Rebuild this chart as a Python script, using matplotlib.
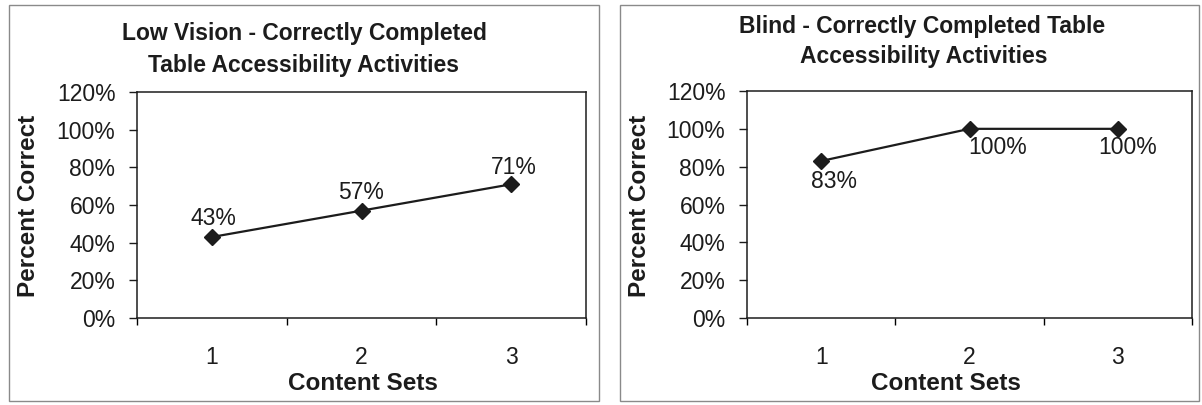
import matplotlib.pyplot as plt
import matplotlib.patches as mpatches
from matplotlib.ticker import PercentFormatter, FixedLocator, NullFormatter

plt.rcParams['font.family'] = ['Liberation Sans', 'DejaVu Sans']

# Content sets and percent correct for each group
content_sets = [1, 2, 3]
low_vision_pct = [43, 57, 71]
blind_pct = [83, 100, 100]

low_vision_title = ["Low Vision - Correctly Completed", "Table Accessibility Activities"]
blind_title = ["Blind - Correctly Completed Table", "Accessibility Activities"]

W, H = 1202, 405
INK = '#1c1c1c'


def fx(px):
    return px / W


def fy(py):
    return 1 - py / H


def draw_panel(fig, rect, values, label_offsets, label_va):
    ax = fig.add_axes(rect)
    ax.plot(content_sets, values, color=INK, lw=1.6, marker='D', markersize=8,
            markerfacecolor=INK, markeredgecolor=INK, zorder=3)
    for x, v, (dx, dy) in zip(content_sets, values, label_offsets):
        ax.annotate(f"{v}%", xy=(x, v), xytext=(dx, dy), textcoords='offset pixels',
                    ha='center', va=label_va, fontsize=16.5, color=INK)

    ax.set_xlim(0.5, 3.5)
    ax.set_ylim(0, 120)
    ax.yaxis.set_major_locator(FixedLocator(range(0, 121, 20)))
    ax.yaxis.set_major_formatter(PercentFormatter(decimals=0))

    # category labels in the middle, tick marks on the boundaries
    ax.xaxis.set_major_locator(FixedLocator([0.5, 1.5, 2.5, 3.5]))
    ax.xaxis.set_major_formatter(NullFormatter())
    ax.xaxis.set_minor_locator(FixedLocator(content_sets))
    ax.set_xticklabels([str(c) for c in content_sets], minor=True)

    ax.tick_params(axis='y', direction='out', length=6, width=1, pad=9.5,
                   labelsize=16.5, colors=INK)
    ax.tick_params(axis='x', which='major', direction='out', length=5, width=1)
    ax.tick_params(axis='x', which='minor', length=0, pad=20, labelsize=16.5,
                   labelcolor=INK)
    for s in ax.spines.values():
        s.set_color(INK)
        s.set_linewidth(1.1)
    return ax


fig = plt.figure(figsize=(W / 100, H / 100), dpi=100)

# panel frames
for x0, x1 in [(9, 599), (620, 1199)]:
    fig.add_artist(mpatches.Rectangle((fx(x0), fy(401)), fx(x1 - x0), (401 - 5) / H,
                                      transform=fig.transFigure, fill=False,
                                      ec='#8a8a8a', lw=1))

ax1 = draw_panel(fig, [fx(137), fy(318), fx(586 - 137), (318 - 92) / H],
                 low_vision_pct, [(2, 12), (0, 12), (3, 10)], 'baseline')
ax2 = draw_panel(fig, [fx(747), fy(318), fx(1192 - 747), (318 - 91) / H],
                 blind_pct, [(13, -27), (28, -25), (10, -25)], 'baseline')

title_kw = dict(ha='center', va='baseline', fontsize=16.5, fontweight='bold', color=INK)
fig.text(fx(304), fy(40), low_vision_title[0], **title_kw)
fig.text(fx(304), fy(72), low_vision_title[1], **title_kw)
fig.text(fx(922), fy(33), blind_title[0], **title_kw)
fig.text(fx(924), fy(63), blind_title[1], **title_kw)

axis_kw = dict(fontsize=17.5, fontweight='bold', color=INK)
fig.text(fx(29), fy(206), "Percent Correct", rotation=90, ha='center', va='center', **axis_kw)
fig.text(fx(640), fy(206), "Percent Correct", rotation=90, ha='center', va='center', **axis_kw)
fig.text(fx(363), fy(390), "Content Sets", ha='center', va='baseline', **axis_kw)
fig.text(fx(946), fy(390), "Content Sets", ha='center', va='baseline', **axis_kw)

fig.savefig('out.png', dpi=100, facecolor='white')
